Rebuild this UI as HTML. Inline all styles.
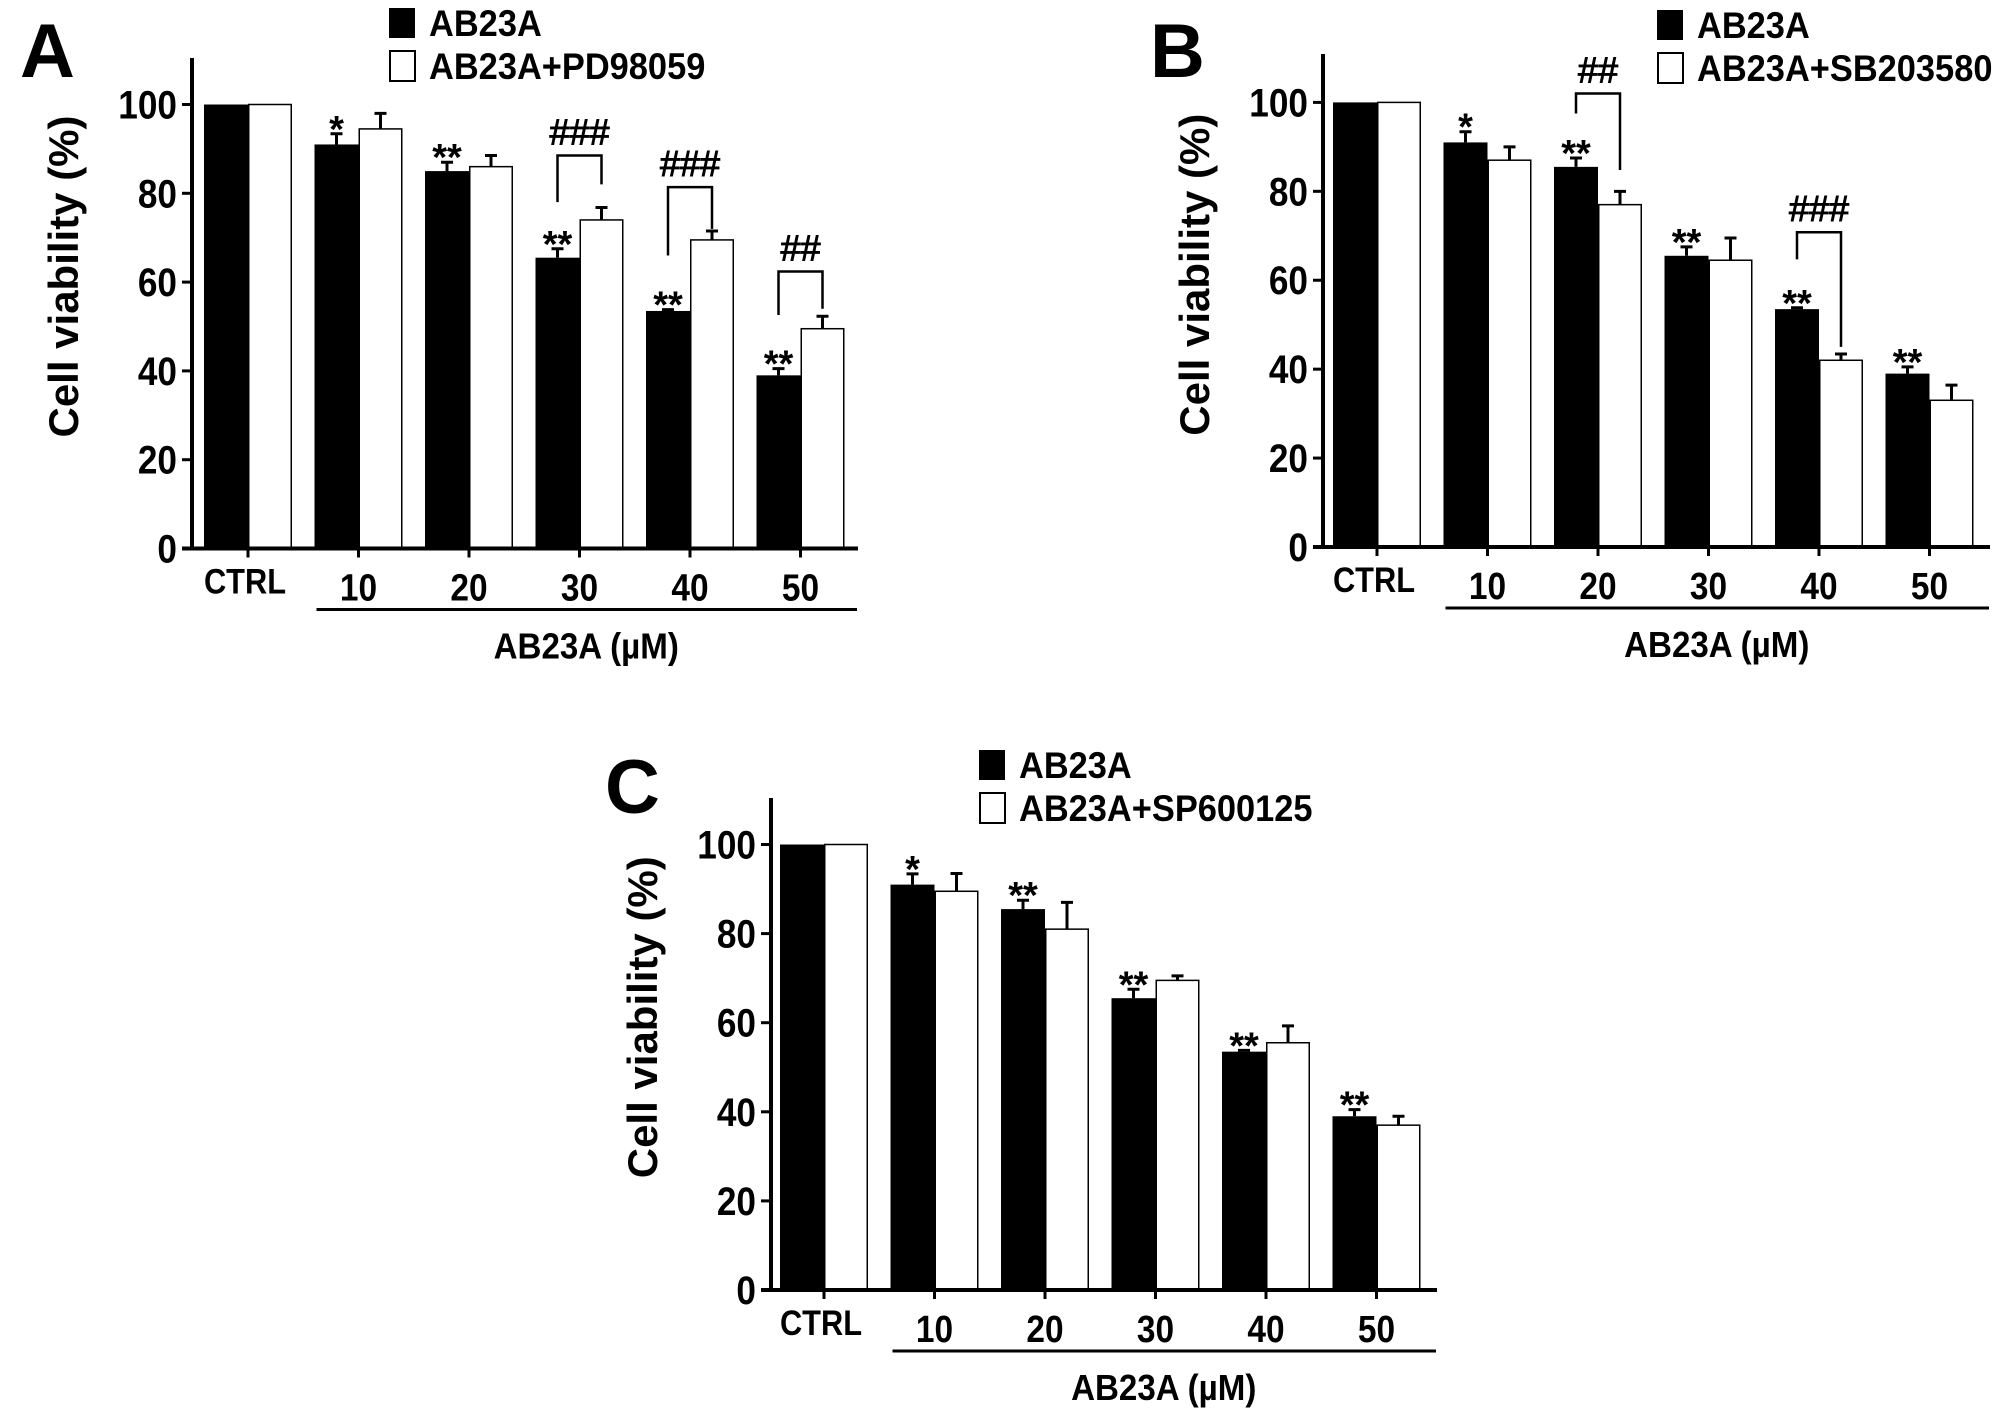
<!DOCTYPE html>
<html><head><meta charset="utf-8"><style>
html,body{margin:0;padding:0;background:#fff;overflow:hidden;}
svg{display:block;font-family:"Liberation Sans",Arial,sans-serif;font-weight:bold;}
</style></head><body>
<svg id="fig" width="2008" height="1408" viewBox="0 0 2008 1408"></svg>
<script>
const categories = ["CTRL","10","20","30","40","50"];
const yTicks = [0,20,40,60,80,100];
const blackA = [100,91,85,65.5,53.5,39];
const blackErrA = [0,2.4,2,2,0.3,1.5];
const whiteA = [100,94.5,86,74,69.5,49.5];
const whiteErrA = [0,3.5,2.5,2.8,2,2.8];
const starsA = ["","*","**","**","**","**"];
const blackB = [100,91,85.5,65.5,53.5,39];
const blackErrB = [0,2.4,2,2,0.3,1.5];
const whiteB = [100,87,77,64.5,42,33];
const whiteErrB = [0,3,3,5,1.4,3.4];
const starsB = ["","*","**","**","**","**"];
const blackC = [100,91,85.5,65.5,53.5,39];
const blackErrC = [0,2.4,2,2,0.3,1.5];
const whiteC = [100,89.5,81,69.5,55.5,37];
const whiteErrC = [0,4,6,1,3.8,2];
const starsC = ["","*","**","**","**","**"];
// brackets: [groupIndex, topValue, leftBottom, rightBottom, label]
const bracketsA = [[3,88.5,78,82,"###"],[4,81.4,66,72,"###"],[5,62.4,52.6,54,"##"]];
const bracketsB = [[2,102,97.5,84.8,"##"],[4,70.8,64.7,45,"###"]];
const bracketsC = [];

const NS="http://www.w3.org/2000/svg";
const svg=document.getElementById('fig');
function mk(tag,attrs,parent,text){const e=document.createElementNS(NS,tag);for(const k in attrs)e.setAttribute(k,attrs[k]);if(text!==undefined)e.textContent=text;(parent||svg).appendChild(e);return e;}
function ctext(x,y,anchor,size,str,parent,sx){
  sx=sx||0.88;
  return mk('text',{x:x/sx,y:y,'text-anchor':anchor,'font-size':size,transform:`scale(${sx},1)`},parent,str);
}

function panel(cfg){
  const g=mk('g',{});
  
  
  const y=v=>cfg.y0-v*cfg.sc;
  const step=110.5, bw=44;
  const bx=i=>cfg.first+i*step;
  const tickX=i=>bx(i)+bw;
  for(let i=0;i<categories.length;i++){
    const b=mk('rect',{x:bx(i),y:y(cfg.black[i]),width:bw,height:cfg.black[i]*cfg.sc,fill:'#000'},g);
    
    
    const w=mk('rect',{x:bx(i)+bw+0.75,y:y(cfg.white[i]),width:bw-1.5,height:cfg.white[i]*cfg.sc,fill:'#fff',stroke:'#000','stroke-width':1.5},g);
    
    
    [[cfg.black,cfg.berr,bx(i)+bw/2],[cfg.white,cfg.werr,bx(i)+bw*1.5]].forEach(([vals,errs,cx])=>{
      if(errs[i]>0){
        const e=mk('path',{d:`M${cx},${y(vals[i])}V${y(vals[i]+errs[i])}M${cx-6},${y(vals[i]+errs[i])}H${cx+6}`,stroke:'#000','stroke-width':3,fill:'none'},g);
        
        
      }
    });
    if(cfg.stars[i]){
      const s=mk('text',{x:bx(i)+bw/2,y:y(cfg.black[i]+cfg.berr[i])+8,'text-anchor':'middle','font-size':38},g,cfg.stars[i]);
      
      
    }
  }
  cfg.brackets.forEach(br=>{
    const i=br[0], lx=bx(i)+bw/2, rx=bx(i)+bw*1.5;
    const p=mk('path',{d:`M${lx},${y(br[2])}V${y(br[1])}H${rx}V${y(br[3])}`,stroke:'#000','stroke-width':2.5,fill:'none'},g);
    
    
    const t=mk('text',{x:(lx+rx)/2,y:y(br[1])-11,'text-anchor':'middle','font-size':36,'font-weight':'normal','stroke':'#000','stroke-width':1},g,br[4]);
    
    
  });
  const ya=mk('line',{x1:cfg.ax,y1:cfg.top,x2:cfg.ax,y2:cfg.y0+2,stroke:'#000','stroke-width':4},g);
  
  
  const xa=mk('line',{x1:cfg.ax-10,y1:cfg.y0,x2:cfg.xend,y2:cfg.y0,stroke:'#000','stroke-width':4},g);
  
  
  yTicks.forEach(v=>{
    mk('line',{x1:cfg.ax-10,y1:y(v),x2:cfg.ax,y2:y(v),stroke:'#000','stroke-width':3},g);
    const t=ctext(cfg.ax-15,y(v)+14,'end',40,String(v),g);
    
    
  });
  categories.forEach((c,i)=>{
    mk('line',{x1:tickX(i),y1:cfg.y0,x2:tickX(i),y2:cfg.y0+9,stroke:'#000','stroke-width':3},g);
    const t=ctext(tickX(i)+(i===0?-3:0),cfg.y0+(i===0?45:52),'middle',i===0?35:38,c,g);
    
    
  });
  const ul=mk('line',{x1:bx(1)+2,y1:cfg.y0+61,x2:cfg.xend-1,y2:cfg.y0+61,stroke:'#000','stroke-width':3},g);
  
  
  const xt=ctext((bx(1)+cfg.xend)/2,cfg.y0+110,'middle',36,'AB23A (µM)',g,0.92);
  
  
  const cy=y(50)-50, tx=cfg.ax-114;
  const yt=mk('text',{x:tx,y:cy,'text-anchor':'middle','font-size':42,transform:`rotate(-90 ${tx} ${cy})`,textLength:322,lengthAdjust:'spacingAndGlyphs'},g,'Cell viability (%)');
  
  
  const pl=mk('text',{x:cfg.lx,y:cfg.ly,'font-size':76},g,cfg.id);
  
  
  const l1=mk('rect',{x:cfg.legx,y:cfg.legy-28,width:26,height:30,fill:'#000'},g);
  
  
  const t1=ctext(cfg.legx+40,cfg.legy,'start',37,'AB23A',g,0.93);
  
  
  const l2=mk('rect',{x:cfg.legx+1,y:cfg.legy+15,width:25,height:30,fill:'#fff',stroke:'#000','stroke-width':2},g);
  
  
  const t2=ctext(cfg.legx+40,cfg.legy+43,'start',37,cfg.combo,g,0.93);
  
  
}

panel({id:'A',ax:192,y0:548.5,sc:4.44,top:58,first:204,xend:858,black:blackA,berr:blackErrA,white:whiteA,werr:whiteErrA,stars:starsA,brackets:bracketsA,lx:20,ly:77,legx:389,legy:36,combo:'AB23A+PD98059'});
panel({id:'B',ax:1323,y0:547,sc:4.446,top:54,first:1333,xend:1990,black:blackB,berr:blackErrB,white:whiteB,werr:whiteErrB,stars:starsB,brackets:bracketsB,lx:1150,ly:77,legx:1657,legy:38,combo:'AB23A+SB203580'});
panel({id:'C',ax:771,y0:1290,sc:4.455,top:798,first:780,xend:1437,black:blackC,berr:blackErrC,white:whiteC,werr:whiteErrC,stars:starsC,brackets:bracketsC,lx:605,ly:813,legx:979,legy:778,combo:'AB23A+SP600125'});
</script>
</body></html>
